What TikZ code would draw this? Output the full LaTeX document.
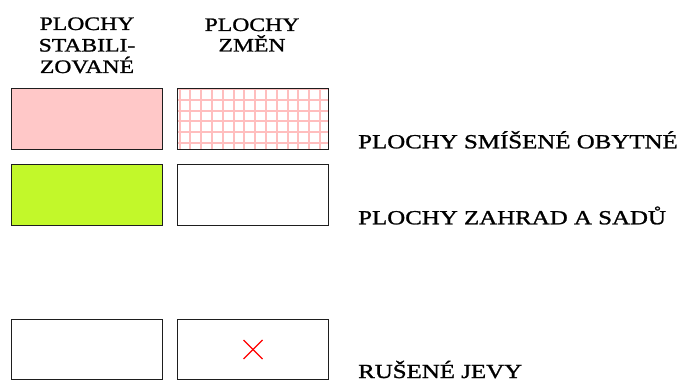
\documentclass[tikz,border=0pt]{standalone}
\usepackage{fontspec}
\usetikzlibrary{calc}
\setmainfont{Liberation Serif}[FakeStretch=1.245,FakeBold=1.2]
\definecolor{boxpink}{RGB}{255,200,200}
\definecolor{gridpink}{RGB}{255,190,190}
\definecolor{boxgreen}{RGB}{194,248,42}
\definecolor{boxline}{RGB}{30,30,30}
\tikzset{
  legbox/.style={draw=boxline, line width=1pt},
  headtxt/.style={anchor=base, inner sep=0pt, font=\fontsize{19}{21}\selectfont},
  labtxt/.style={anchor=base west, inner sep=0pt, font=\fontsize{20}{22}\selectfont},
  gridline/.style={draw=gridpink, line width=2pt},
  cross/.style={draw=red, line width=1.2pt}
}
\begin{document}
\begin{tikzpicture}[x=1pt,y=-1pt]
\useasboundingbox (0,0) rectangle (682,382);
% headers
\node[headtxt] (h1a) at (87,30) {PLOCHY};
\node[headtxt] (h1b) at (87,51.5) {STABILI-};
\node[headtxt] (h1c) at (87,73) {ZOVANÉ};
\node[headtxt] (h2a) at (252,31) {PLOCHY};
\node[headtxt] (h2b) at (252,51.5) {ZMĚN};
% row 1
\fill[boxpink] (11,88) rectangle (162,149);
\node[legbox, minimum width=151pt, minimum height=61pt, inner sep=0pt, anchor=north west] (b1) at (11,88) {};
\begin{scope}
\clip (177.5,88) rectangle (328,149);
\foreach \k in {0,...,13} {\path[gridline] (179.5+10.8*\k,88) -- (179.5+10.8*\k,149);}
\foreach \k in {0,...,5} {\path[gridline] (177,89.5+10.65*\k) -- (328,89.5+10.65*\k);}
\end{scope}
\node[legbox, minimum width=151pt, minimum height=61pt, inner sep=0pt, anchor=north west] (b2) at (177,88) {};
% row 2
\node[legbox, fill=boxgreen, minimum width=151pt, minimum height=61pt, inner sep=0pt, anchor=north west] (b3) at (11,164) {};
\node[legbox, minimum width=151pt, minimum height=61pt, inner sep=0pt, anchor=north west] (b4) at (177,164) {};
% row 3
\node[legbox, minimum width=151pt, minimum height=60pt, inner sep=0pt, anchor=north west] (b5) at (11,319) {};
\node[legbox, minimum width=151pt, minimum height=60pt, inner sep=0pt, anchor=north west] (b6) at (177,319) {};
\coordinate (xc) at (253,349.5);
\path[cross] ($(xc)+(-9.5,-9.5)$) -- ($(xc)+(9.5,9.5)$);
\path[cross] ($(xc)+(-9.5,9.5)$) -- ($(xc)+(9.5,-9.5)$);
% labels
\node[labtxt] (l1) at (358,148.3) {PLOCHY SMÍŠENÉ OBYTNÉ};
\node[labtxt] (l2) at (358,224.3) {PLOCHY ZAHRAD A SADŮ};
\node[labtxt] (l3) at (358,378) {RUŠENÉ JEVY};
\end{tikzpicture}
\end{document}
